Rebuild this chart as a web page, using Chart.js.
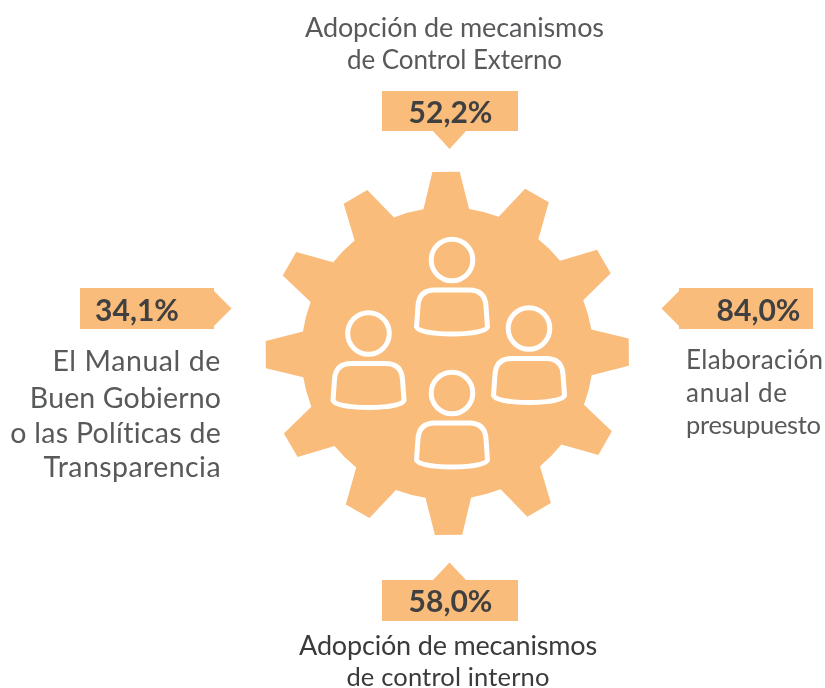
<!DOCTYPE html>
<html>
<head>
<meta charset="utf-8">
<title>Mecanismos de control</title>
<script src="https://cdn.jsdelivr.net/npm/chart.js@4/dist/chart.umd.min.js"></script>
<style>
html, body { margin: 0; padding: 0; background: #fff; }
canvas { display: block; }
</style>
</head>
<body>
<canvas id="gearchart" width="825" height="688"></canvas>
<script>
// datos
var categories = [
    ["Adopción de mecanismos", "de Control Externo"],
    ["Elaboración", "anual de", "presupuesto"],
    ["Adopción de mecanismos", "de control interno"],
    ["El Manual de", "Buen Gobierno", "o las Políticas de", "Transparencia"]
];
var values = [52.2, 84.0, 58.0, 34.1];

// colocacion de cada etiqueta, en el mismo orden (unidades de los ejes = px)
var slots = [
    { box: [382, 91, 136, 40], tip: [449.5, 149], textX: 454.5, align: "center", base: [37, 69], fit: [299, 215], size: [27, 26], color: "#58595b", valueX: 450.5, valueY: 123 },
    { box: [679, 288, 134, 41], tip: [661.5, 308.5], textX: 686, align: "left", base: [369, 402, 434], fit: [137, 101, 135], size: [26, 26, 25.5], color: "#58595b", valueX: 758.5, valueY: 321 },
    { box: [382, 580, 136, 41], tip: [449.5, 562.5], textX: 448, align: "center", base: [655, 686], fit: [298, 203], size: [27, 25.5], color: "#3a3a3c", valueX: 450.5, valueY: 612 },
    { box: [80, 288, 134, 41], tip: [231.5, 308.5], textX: 221, align: "right", base: [371, 408, 443, 477], fit: [168, 191, 211, 177], size: [28.5, 28.5, 28.5, 28.5], color: "#58595b", valueX: 137, valueY: 321 }
];
var people = [[452, 260], [368.5, 333.5], [529, 328.5], [452, 393]];

var orange = "#fabc7b";

// recuadro con flecha como imagen del punto
function calloutImage(s) {
    var left = Math.floor(Math.min(s.box[0], s.tip[0]));
    var top = Math.floor(Math.min(s.box[1], s.tip[1]));
    var right = Math.ceil(Math.max(s.box[0] + s.box[2], s.tip[0]));
    var bottom = Math.ceil(Math.max(s.box[1] + s.box[3], s.tip[1]));
    var c = document.createElement("canvas");
    c.width = right - left;
    c.height = bottom - top;
    var g = c.getContext("2d");
    g.fillStyle = orange;
    g.translate(-left, -top);
    g.fillRect(s.box[0], s.box[1], s.box[2], s.box[3]);
    g.beginPath();
    if (s.tip[1] < s.box[1] || s.tip[1] > s.box[1] + s.box[3]) { // arriba o abajo
        var edge = s.tip[1] < s.box[1] ? s.box[1] : s.box[1] + s.box[3];
        g.moveTo(s.tip[0] - 16.5, edge);
        g.lineTo(s.tip[0], s.tip[1]);
        g.lineTo(s.tip[0] + 16.5, edge);
    } else {
        var side = s.tip[0] < s.box[0] ? s.box[0] : s.box[0] + s.box[2];
        g.moveTo(side, s.tip[1] - 17.5);
        g.lineTo(s.tip[0], s.tip[1]);
        g.lineTo(side, s.tip[1] + 17.5);
    }
    g.closePath();
    g.fill();
    return { image: c, x: left + c.width / 2, y: top + c.height / 2 };
}

var callouts = slots.map(calloutImage);

function drawGear(ctx, sx, sy) {
    var cx = sx.getPixelForValue(447.3), cy = sy.getPixelForValue(353.4);
    var tipR = 182, rootR = 146;
    var tipA = 4.3 * Math.PI / 180, rootA = 9 * Math.PI / 180;
    var start = (-90 - 0.4) * Math.PI / 180;
    ctx.beginPath();
    for (var i = 0; i < 12; i++) {
        var t = start + i * Math.PI / 6;
        ctx.arc(cx, cy, rootR, t - Math.PI / 6 + rootA, t - rootA);
        ctx.lineTo(cx + tipR * Math.cos(t - tipA), cy + tipR * Math.sin(t - tipA));
        ctx.lineTo(cx + tipR * Math.cos(t + tipA), cy + tipR * Math.sin(t + tipA));
        ctx.lineTo(cx + rootR * Math.cos(t + rootA), cy + rootR * Math.sin(t + rootA));
    }
    ctx.closePath();
    ctx.fillStyle = orange;
    ctx.fill();
}

function drawPerson(ctx, x, y) {
    ctx.beginPath();
    ctx.arc(x, y, 20.8, 0, Math.PI * 2);
    ctx.stroke();
    ctx.beginPath();
    ctx.moveTo(x - 17, y + 30);
    ctx.lineTo(x + 17, y + 30);
    ctx.quadraticCurveTo(x + 33, y + 30, x + 34, y + 46);
    ctx.lineTo(x + 35.5, y + 67);
    ctx.bezierCurveTo(x + 33, y + 72, x + 15, y + 74, x, y + 74);
    ctx.bezierCurveTo(x - 15, y + 74, x - 33, y + 72, x - 35.5, y + 67);
    ctx.lineTo(x - 34, y + 46);
    ctx.quadraticCurveTo(x - 33, y + 30, x - 17, y + 30);
    ctx.closePath();
    ctx.stroke();
}

var gearPlugin = {
    id: "gear",
    beforeDatasetsDraw: function(chart) {
        var ctx = chart.ctx, sx = chart.scales.x, sy = chart.scales.y;
        ctx.save();
        drawGear(ctx, sx, sy);
        ctx.strokeStyle = "#fff";
        ctx.lineWidth = 5;
        ctx.lineJoin = "round";
        people.forEach(function(p) {
            drawPerson(ctx, sx.getPixelForValue(p[0]), sy.getPixelForValue(p[1]));
        });
        ctx.restore();
    },
    afterDatasetsDraw: function(chart) {
        var ctx = chart.ctx, sx = chart.scales.x, sy = chart.scales.y;
        ctx.save();
        slots.forEach(function(s, i) {
            ctx.textBaseline = "alphabetic";
            ctx.textAlign = "center";
            ctx.letterSpacing = "0px";
            ctx.fillStyle = "#404041";
            ctx.font = "bold 30px Lato";
            ctx.fillText(values[i].toFixed(1).replace(".", ",") + "%", sx.getPixelForValue(s.valueX), sy.getPixelForValue(s.valueY));
            ctx.textAlign = s.align;
            ctx.fillStyle = s.color;
            categories[i].forEach(function(line, j) {
                ctx.font = s.size[j] + "px Lato";
                // espaciado para que cada linea mida lo mismo que en el original
                ctx.letterSpacing = "0px";
                var extra = (s.fit[j] - ctx.measureText(line).width) / (line.length - 1);
                ctx.letterSpacing = extra + "px";
                ctx.fillText(line, sx.getPixelForValue(s.textX), sy.getPixelForValue(s.base[j]));
            });
        });
        ctx.restore();
    }
};

var ctx = document.getElementById("gearchart");
var gearchart = new Chart(ctx, {
    type: "scatter",
    data: {
        datasets: [{
            label: "Porcentaje",
            data: values.map(function(v, i) {
                return { x: callouts[i].x, y: callouts[i].y, value: v };
            }),
            pointStyle: callouts.map(function(c) { return c.image; }),
            clip: false
        }]
    },
    options: {
        responsive: false,
        animation: false,
        layout: { padding: 0, autoPadding: false },
        plugins: { legend: { display: false }, tooltip: { enabled: false } },
        scales: {
            x: { type: "linear", display: false, min: 0, max: 825 },
            y: { type: "linear", display: false, min: 0, max: 688, reverse: true }
        }
    },
    plugins: [gearPlugin]
});
</script>
</body>
</html>
